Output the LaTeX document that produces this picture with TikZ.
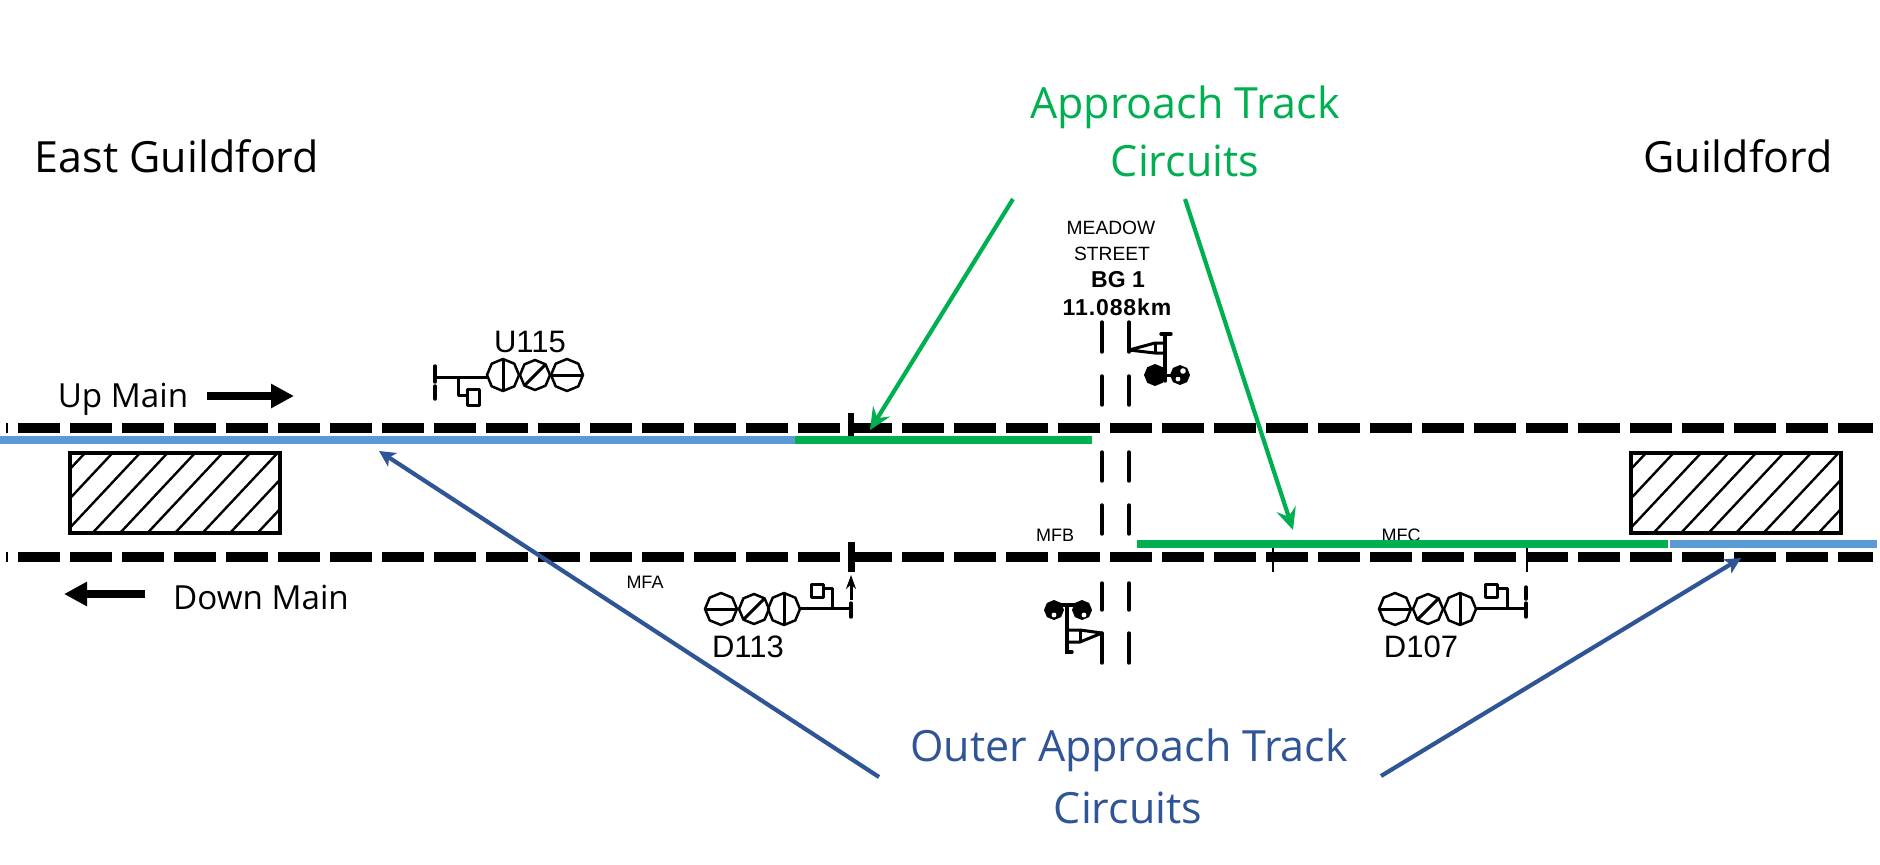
\documentclass[tikz,border=0pt]{standalone}
\usepackage{fontspec}
\setmainfont{Open Sans}
\newfontfamily\arialf{Liberation Sans}
\usetikzlibrary{arrows.meta}
\definecolor{cgreen}{RGB}{0,176,80}
\definecolor{cblue}{RGB}{91,155,213}
\definecolor{cnavy}{RGB}{47,85,151}
\tikzset{
  x=0.5pt,y=-0.5pt,
  track/.style={line width=5pt,dash pattern=on 21pt off 5pt,black},
  zone/.style={line width=4pt},
  callgreen/.style={line width=2.1pt,cgreen,-{Stealth[length=11pt,width=10pt,inset=4pt]}},
  callnavy/.style={line width=2.1pt,cnavy,-{Stealth[length=8pt,width=8pt,inset=2pt]}},
  big/.style={inner sep=0pt,font=\fontsize{21.5}{26}\selectfont},
  mid/.style={inner sep=0pt,font=\fontsize{16.6}{20}\selectfont},
  sigtext/.style={inner sep=0pt,font=\arialf\fontsize{15.5}{18}\selectfont},
  tiny/.style={inner sep=0pt,font=\arialf\fontsize{9}{11}\selectfont},
  meadow/.style={inner sep=0pt,font=\arialf\fontsize{9.6}{12}\selectfont},
  cadbold/.style={inner sep=0pt,font=\arialf\bfseries\fontsize{11.5}{14}\selectfont},
  sigline/.style={line width=1.7pt,black,line cap=round},
  stem/.style={line width=1.5pt,black,line join=round},
  thin sig/.style={line width=1.25pt,black,line join=round},
  dir arrow/.style={line width=4pt,black,-{Triangle[length=11.5pt,width=11.5pt]}},
  stationbox/.style={draw=black,line width=1.7pt,minimum width=105pt,minimum height=40pt,inner sep=0pt},
  hatch/.style={line width=1.2pt},
}
\newcommand{\octpath}[3]{(#1,#2) +(0:#3) -- +(45:#3) -- +(90:#3) -- +(135:#3) -- +(180:#3) -- +(225:#3) -- +(270:#3) -- +(315:#3) -- cycle}
\newcommand{\octhead}[4]{% x y r kind
  \draw[thin sig] \octpath{#1}{#2}{#3};
  \ifcase#4\relax
    \draw[stem] (#1,#2-#3) -- (#1,#2+#3);
  \or
    \draw[stem] (#1-#3*0.7,#2+#3*0.7) -- (#1+#3*0.7,#2-#3*0.7);
  \or
    \draw[stem] (#1-#3,#2) -- (#1+#3,#2);
  \fi}
\newcommand{\blobhead}[3]{\fill[black] \octpath{#1}{#2}{#3};}
\begin{document}
\begin{tikzpicture}
\useasboundingbox (0,0) rectangle (1880,864);
% small labels under the zones
\node[tiny] (m1) at (645,582) {MFA};
\node[tiny] (m2) at (1055,535) {MFB};
\node[tiny] (m3) at (1401,535) {MFC};
% tracks
\coordinate (tl) at (18,428); \coordinate (tr) at (1873,428);
\coordinate (bl) at (18,557); \coordinate (br) at (1873,557);
\draw[track] (tl) -- (tr);
\draw[track] (bl) -- (br);
\draw[line width=0.6pt] (7,423) -- (7,433) (7,552) -- (7,562);
% stations
\begin{scope}
\clip (70,453) rectangle (280,533);
\foreach \k in {0,...,10} \draw[hatch] (10+\k*27.5,533) -- ++(75,-80);
\end{scope}
\node[stationbox] (st1) at (175,493) {};
\begin{scope}
\clip (1631,453) rectangle (1841,533);
\foreach \k in {0,...,10} \draw[hatch] (1571+\k*27.5,533) -- ++(75,-80);
\end{scope}
\node[stationbox] (st2) at (1736,493) {};
% zones
\coordinate (za) at (0,440); \coordinate (zb) at (795,440); \coordinate (zc) at (1092,440);
\coordinate (zd) at (1137,544); \coordinate (ze) at (1668,544); \coordinate (zf) at (1670,544); \coordinate (zg) at (1877,544);
\draw[zone,cblue] (za) -- (zb);
\draw[zone,cgreen] (zb) -- (zc);
\draw[zone,cgreen] (zd) -- (ze);
\draw[zone,cblue] (zf) -- (zg);
% level crossing
\foreach \x in {1102,1129} {
  \foreach \a/\b in {322/352,376/405,452/481,505/534,583/610,633/663}
    \draw[sigline] (\x,\a) -- (\x,\b);
}
% block ticks
\draw[line width=3pt] (851,413) -- (851,436);
\draw[line width=3.5pt] (851,542) -- (851,572);
\draw[line width=1.2pt] (1273,548) -- (1273,572);
\draw[line width=1.2pt] (1527,548) -- (1527,572);
% U115
\draw[sigline] (435,366) -- (435,382) (435,386) -- (435,399);
\draw[stem] (435,377) -- (488,377);
\draw[stem] (458,377) -- (458,395) -- (467,395);
\draw[stem] (467,389) rectangle (479,405);
\octhead{503}{375}{16}{0}\octhead{535}{375}{15}{1}\octhead{567}{375}{16}{2}
% D113
\draw[stem] (799,608) -- (851,608);
\draw[sigline] (851,603) -- (851,617);
\draw[line width=1.5pt,-{Stealth[length=7pt,width=5pt]}] (851,600) -- (851,575);
\draw[stem] (832,608) -- (832,588) -- (823,588);
\draw[stem] (811,584) rectangle (823,597);
\octhead{721}{609}{16}{2}\octhead{754}{609}{15}{1}\octhead{784}{609}{16}{0}
% D107
\draw[stem] (1477,608) -- (1526,608);
\draw[sigline] (1526,587) -- (1526,599) (1526,603) -- (1526,617);
\draw[stem] (1507,608) -- (1507,588) -- (1497,588);
\draw[stem] (1485,584) rectangle (1497,597);
\octhead{1395}{609}{16}{2}\octhead{1428}{609}{15}{1}\octhead{1460}{609}{16}{0}
% crossing signal, upper
\draw[stem] (1129,350) -- (1155,343) -- (1165,343) -- (1165,353) -- (1155,353) -- cycle;
\draw[stem] (1155,343) -- (1155,353);
\draw[sigline] (1165,335) -- (1165,381);
\draw[sigline] (1161,334) -- (1171,334);
\blobhead{1155}{375}{11}
\blobhead{1180}{375}{10}
\fill[white] (1183,371) circle (1.4pt) (1178,379) circle (1.2pt);
\draw[stem] (1155,375) -- (1180,375);
% crossing signal, lower
\draw[sigline] (1054,605) -- (1082,605);
\draw[sigline] (1067,605) -- (1067,652) -- (1072,652);
\draw[stem] (1102,633) -- (1080,630) -- (1067,630) -- (1067,642) -- (1080,642) -- cycle;
\draw[stem] (1080,630) -- (1080,642);
\blobhead{1054}{610}{10}
\blobhead{1082}{610}{10}
\fill[white] (1054,615) circle (1.2pt) (1084,615) circle (1.2pt);
% callouts
\coordinate (g1) at (1013,199); \coordinate (g1e) at (870,430);
\coordinate (g2) at (1185,199); \coordinate (g2e) at (1293,530);
\coordinate (b1) at (879,777); \coordinate (b1e) at (379,451);
\coordinate (b2) at (1381,776); \coordinate (b2e) at (1741,558);
\draw[callgreen] (g1) -- (g1e);
\draw[callgreen] (g2) -- (g2e);
\draw[callnavy] (b1) -- (b1e);
\draw[callnavy] (b2) -- (b2e);
% direction arrows
\coordinate (u1) at (207,396); \coordinate (u2) at (294,396);
\coordinate (d1) at (145,594); \coordinate (d2) at (64,594);
\draw[dir arrow] (u1) -- (u2);
\draw[dir arrow] (d1) -- (d2);
% texts
\node[big,text=cgreen] (t1) at (1185,107) {Approach Track};
\node[big,text=cgreen] (t2) at (1185,161) {Circuits};
\node[big,text=cnavy] (t3) at (1129,750) {Outer Approach Track};
\node[big,text=cnavy] (t4) at (1128,808) {Circuits};
\node[big] (t5) at (177,156) {East Guildford};
\node[big] (t6) at (1738,156) {Guildford};
\node[mid] (t7) at (123,399) {Up Main};
\node[mid] (t8) at (261,597) {Down Main};
\node[sigtext] (s1) at (530,342) {U115};
\node[sigtext] (s2) at (748,647) {D113};
\node[sigtext] (s3) at (1421,647) {D107};
\node[meadow] (l1) at (1111,228) {MEADOW};
\node[meadow] (l2) at (1112,254) {STREET};
\node[cadbold] (l3) at (1118,280) {BG 1};
\node[cadbold] (l4) at (1117,307) {\addfontfeature{LetterSpace=4}11.088km};
\end{tikzpicture}
\end{document}
